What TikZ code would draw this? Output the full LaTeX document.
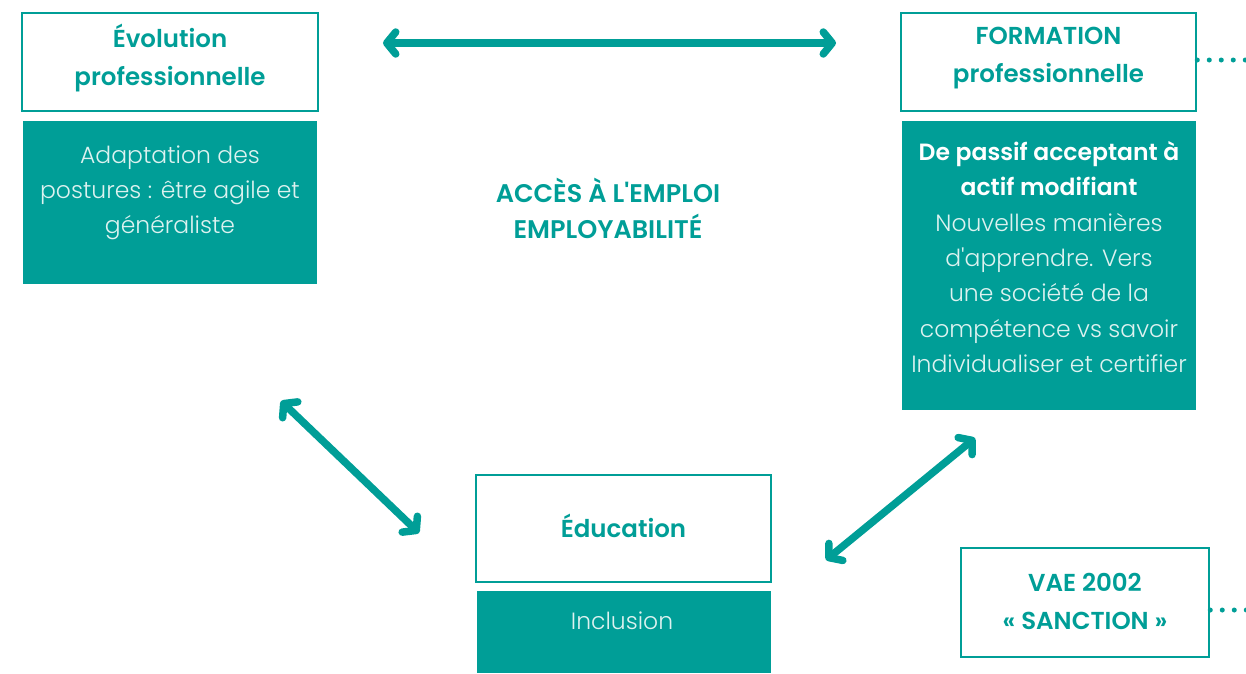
\documentclass[tikz,border=0pt]{standalone}
\usepackage{fontspec}
\setmainfont{Poppins Light}[BoldFont={Poppins SemiBold}]
\usetikzlibrary{arrows.meta,positioning}
\definecolor{teal1}{HTML}{009E97}
\definecolor{lighttxt}{HTML}{DDF2F0}
\newcommand{\hl}[1]{\textbf{\color{white}#1}}
\tikzset{
  x=1pt,y=1pt,
  outbox/.style={draw=teal1,line width=2.5pt,fill=white,inner sep=0pt,text=teal1,font=\bfseries\fontsize{24.5}{38}\selectfont,align=center},
  fillbox/.style={fill=teal1,inner sep=0pt,text=lighttxt,font=\fontsize{23.5}{35.3}\selectfont,align=center},
  bodytxt/.style={inner sep=0pt,text=lighttxt,font=\fontsize{23.5}{35.3}\selectfont,align=center},
  dbl/.style={teal1,line width=7.5pt,line cap=round,{Straight Barb[round,length=9pt,width=22pt]}-{Straight Barb[round,length=9pt,width=22pt]}},
  dots/.style={teal1,line width=5pt,line cap=round,dash pattern=on 0pt off 12pt}
}
\begin{document}
\begin{tikzpicture}
\useasboundingbox (0,0) rectangle (1246,-673);
% Evolution
\node[outbox,minimum width=296pt,minimum height=98pt] (evo) at (170,-62) {};
\node[outbox,draw=none,fill=none] (evoT1) at (170,-58) {Évolution\\professionnelle};
\node[fillbox,minimum width=294pt,minimum height=163pt,anchor=north] (evoF) at (170,-121) {};
\node[bodytxt] (evoT) at (170,-193) {Adaptation des\\postures : être agile et\\généraliste};
% Formation
\node[outbox,minimum width=295pt,minimum height=98pt] (form) at (1048.5,-62) {};
\node[outbox,draw=none,fill=none] (formT1) at (1048.5,-58) {FORMATION\\professionnelle};
\node[fillbox,minimum width=294pt,minimum height=289pt,anchor=north] (formF) at (1049,-121) {};
\node[bodytxt] (formT) at (1049,-257) {\hl{De passif acceptant à}\\\hl{actif modifiant}\\Nouvelles manières\\d\textquotesingle apprendre. Vers\\une société de la\\compétence vs savoir\\Individualiser et certifier};
% Education
\node[outbox,minimum width=295pt,minimum height=107pt] (edu) at (623.5,-528.5) {};
\node[outbox,draw=none,fill=none] (eduT) at (623.5,-526) {Éducation};
\node[fillbox,minimum width=294pt,minimum height=82pt,anchor=north] (eduF) at (624,-591) {};
\node[bodytxt] (eduI) at (622,-621) {Inclusion};
% VAE
\node[outbox,minimum width=248pt,minimum height=109pt] (vae) at (1085,-602.5) {};
\node[outbox,draw=none,fill=none] (vaeT) at (1085,-601) {VAE 2002\\« SANCTION »};
% centre text
\node[text=teal1,inner sep=0pt,font=\bfseries\fontsize{25.5}{36}\selectfont,align=center] (acc) at (608,-208) {ACCÈS À L\textquotesingle EMPLOI\\EMPLOYABILITÉ};
% arrows
\coordinate (h1) at (383,-43);
\coordinate (h2) at (836,-43);
\draw[dbl] (h1) -- (h2);
\coordinate (l1) at (281,-401);
\coordinate (l2) at (419,-533);
\draw[dbl] (l1) -- (l2);
\coordinate (r1) at (975,-438);
\coordinate (r2) at (826,-560);
\draw[dbl] (r1) -- (r2);
% dotted leaders
\coordinate (d1) at (1250,-60);
\draw[dots] (form.east |- d1) -- (d1);
\coordinate (d2) at (1250,-610);
\draw[dots] (vae.east |- d2) -- (d2);
\end{tikzpicture}
\end{document}
